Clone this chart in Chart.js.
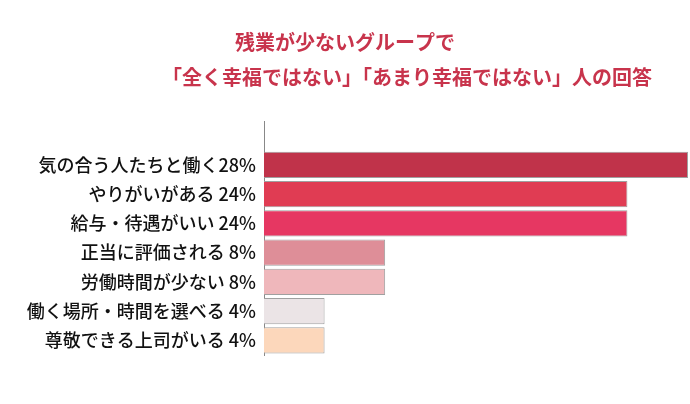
<!DOCTYPE html>
<html><head><meta charset="utf-8">
<script src="https://cdn.jsdelivr.net/npm/chart.js"></script>
<style>html,body{margin:0;background:#fff}#c{display:block}</style>
</head><body>
<canvas id="c" width="690" height="404"></canvas>
<script>
var titleLines = ['残業が少ないグループで', '「全く幸福ではない」「あまり幸福ではない」人の回答'];
var labels = ['', '気の合う人たちと働く28%', 'やりがいがある 24%', '給与・待遇がいい 24%', '正当に評価される 8%', '労働時間が少ない 8%', '働く場所・時間を選べる 4%', '尊敬できる上司がいる 4%'];
var values = [null, 28, 24, 24, 8, 8, 4, 4];
var colors = ['#fff', '#c0334a', '#e03c53', '#e63762', '#de8e98', '#efb7bb', '#ebe4e6', '#fcd7bb'];

var titlePlugin = {
    id: 'titleText',
    afterDraw: function(chart) {
        var c = chart.ctx;
        c.save();
        c.fillStyle = '#c8344c';
        c.font = 'bold 20px "Noto Sans CJK JP"';
        c.textAlign = 'center';
        c.textBaseline = 'middle';
        c.fillText(titleLines[0], 345, 42);
        c.fillText(titleLines[1], 407, 77);
        c.restore();
    }
};

new Chart(document.getElementById('c').getContext('2d'), {
    type: 'bar',
    data: {
        labels: labels,
        datasets: [{
            data: values,
            backgroundColor: colors,
            borderColor: '#a0a0a0',
            borderWidth: 1,
            barPercentage: 0.9,
            categoryPercentage: 1
        }]
    },
    options: {
        indexAxis: 'y',
        responsive: false,
        animation: false,
        layout: { padding: { top: 121, bottom: 49, right: 2, left: 0 } },
        plugins: { legend: { display: false }, tooltip: { enabled: false } },
        scales: {
            x: { min: 0, max: 28, display: false },
            y: {
                grid: { display: false },
                border: { color: '#888', width: 1 },
                ticks: { color: '#111', font: { size: 18, weight: '500', family: '"Noto Sans CJK JP"' }, padding: 0 },
                afterFit: function(s) { s.width = 264; }
            }
        }
    },
    plugins: [titlePlugin]
});
</script>
</body></html>
